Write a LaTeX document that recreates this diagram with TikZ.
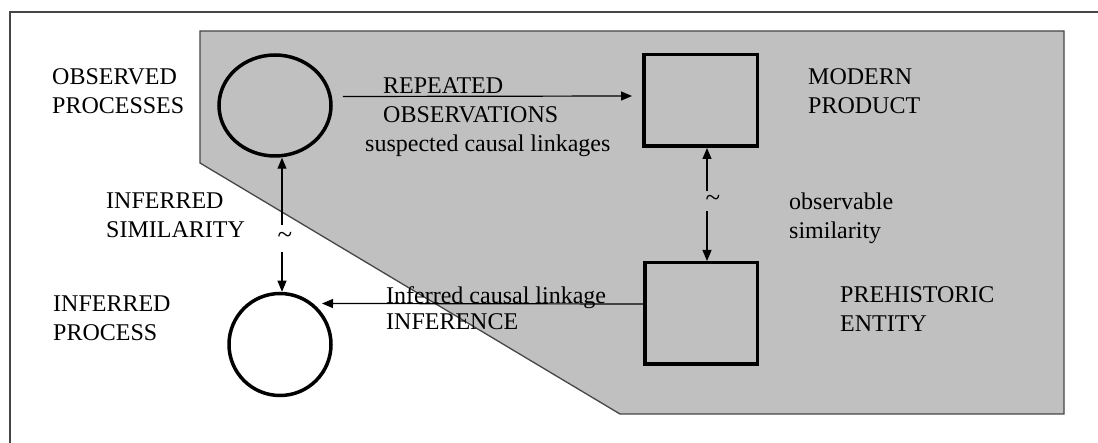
\documentclass[tikz,border=0pt]{standalone}
\usepackage{fontspec}
\setmainfont{Liberation Serif}
\usetikzlibrary{arrows.meta,calc,shapes.geometric}
\definecolor{panel}{RGB}{192,192,192}
\definecolor{rulegray}{RGB}{70,70,70}
\begin{document}
\begin{tikzpicture}[x=1pt,y=-1pt,
  lbl/.style={inner sep=0pt,anchor=base west,align=left,
              font=\fontsize{24}{29.5}\selectfont},
  small/.style={inner sep=0pt,anchor=base west,
              font=\fontsize{24}{29.5}\selectfont},
  proc/.style={ellipse,draw=black,line width=3.5pt,inner sep=0pt},
  thing/.style={rectangle,draw=black,line width=3.5pt,inner sep=0pt},
  arr/.style={line width=1.2pt,-{Triangle[length=11pt,width=9pt]}},
  arrboth/.style={line width=1.2pt,{Triangle[length=11pt,width=9pt]}-{Triangle[length=11pt,width=9pt]}},
  sim/.style={inner sep=0pt,font=\fontsize{27}{27}\selectfont}]
% page
\fill[white] (0,0) rectangle (1098,443);
\useasboundingbox (0,0) rectangle (1098,443);
% outer frame, running off the right and bottom edges
\draw[rulegray,line width=1.6pt] (10,460) -- (10,12) -- (1120,12);
% shaded field of direct observation
\draw[rulegray,fill=panel,line width=1.3pt]
  (200,31) -- (1064,31) -- (1064,414) -- (620,414) -- (200,163) -- cycle;

% processes and objects
\node[proc,minimum width=112pt,minimum height=101pt] (c1) at (275,105.5) {};
\node[proc,minimum width=102pt,minimum height=102pt,fill=white] (c2) at (280,344.5) {};
\node[thing,minimum width=113.5pt,minimum height=91.5pt] (b1) at (700.5,100.5) {};
\node[thing,minimum width=112.5pt,minimum height=101.5pt] (b2) at (701,313.5) {};

% labels (anchored at the baseline of their last line)
\node[lbl] (tObs) at (52,114) {OBSERVED\\PROCESSES};
\node[lbl] (tRep) at (383,123) {REPEATED\\OBSERVATIONS};
\node[small] (tSus) at (365,152) {suspected causal linkages};
\node[lbl] (tMod) at (808,114) {MODERN\\PRODUCT};
\node[lbl] (tObv) at (789,239) {observable\\similarity};
\node[lbl] (tSim) at (106,238) {INFERRED\\SIMILARITY};
\node[lbl] (tInf) at (53,341) {INFERRED\\PROCESS};
\node[lbl] (tPre) at (840,332) {PREHISTORIC\\ENTITY};

% connectors
\draw[arr] ($(c1.east)+(10,-9)$) -- ($(b1.west)+(-10,-4.5)$);
\draw[arrboth] ($(b1.south)+(6.5,0)$) -- ($(b2.north)+(6,0)$)
  node[sim,pos=0.47,xshift=6pt,fill=panel,minimum height=20pt,minimum width=12pt] (tilR) {\raisebox{-4pt}{\char`\~}};
\draw[arrboth] ($(c1.south)+(7,0)$) -- ($(c2.north)+(2,0)$)
  node[sim,pos=0.6,xshift=3pt,fill=white,minimum height=27pt,minimum width=14pt] (tilL) {\raisebox{-6pt}{\char`\~}};
\draw[arr] ($(b2.west)+(0,-9.5)$) -- ($(c2.center)+(42,-41)$);
\node[lbl] (tCau) at (386,330) {Inferred causal linkage\\[-3.5pt]INFERENCE};
\end{tikzpicture}
\end{document}
